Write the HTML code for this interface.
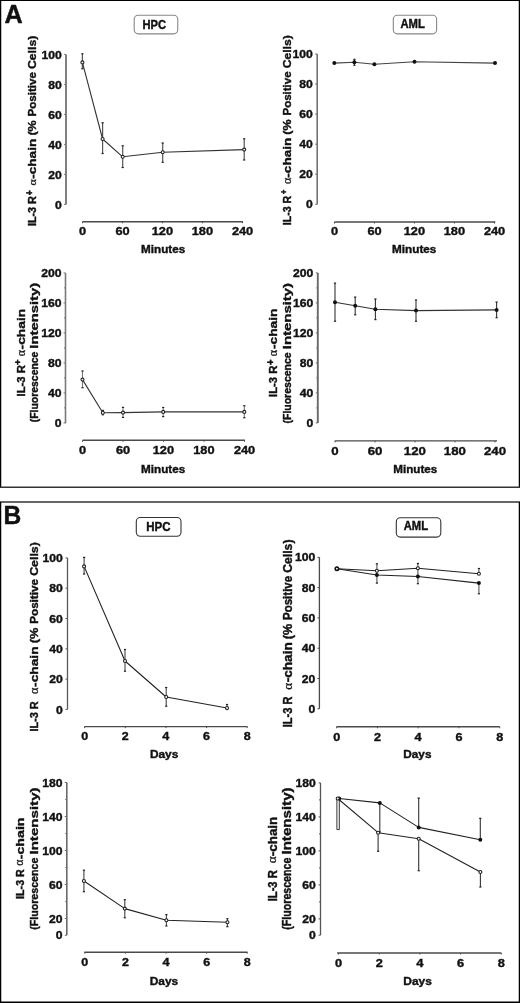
<!DOCTYPE html>
<html><head><meta charset="utf-8"><title>IL-3 receptor figure</title>
<style>
html,body{margin:0;padding:0;background:#fff;}
body{width:520px;height:1003px;overflow:hidden;font-family:"Liberation Sans",sans-serif;}
svg{display:block;will-change:transform;}
</style></head>
<body>
<svg width="520" height="1003" viewBox="0 0 520 1003">
<rect x="0" y="0" width="520" height="1003" fill="#fff"/>
<line x1="0.00" y1="0.50" x2="520.00" y2="0.50" stroke="#000" stroke-width="1.2"/>
<line x1="0.60" y1="0.00" x2="0.60" y2="488.00" stroke="#000" stroke-width="1.3"/>
<line x1="519.40" y1="0.00" x2="519.40" y2="488.00" stroke="#000" stroke-width="1.3"/>
<line x1="0.00" y1="487.20" x2="520.00" y2="487.20" stroke="#333" stroke-width="1.4"/>
<line x1="0.00" y1="502.00" x2="520.00" y2="502.00" stroke="#333" stroke-width="1.5"/>
<line x1="0.60" y1="502.00" x2="0.60" y2="1003.00" stroke="#000" stroke-width="1.3"/>
<line x1="519.40" y1="502.00" x2="519.40" y2="1003.00" stroke="#000" stroke-width="1.3"/>
<line x1="0.00" y1="1002.20" x2="520.00" y2="1002.20" stroke="#000" stroke-width="1.4"/>
<text transform="matrix(2.5224 0 0 2.5507 4.57 22.80)" style="font-family:'Liberation Sans';font-weight:bold;font-size:10.0px" fill="#111" stroke="#111" stroke-width="0.158">A</text>
<text transform="matrix(2.4590 0 0 2.5507 3.40 524.00)" style="font-family:'Liberation Sans';font-weight:bold;font-size:10.0px" fill="#111" stroke="#111" stroke-width="0.160">B</text>
<rect x="134.20" y="15.30" width="43.55" height="18.55" rx="4" ry="4" fill="none" stroke="#888" stroke-width="1.1"/>
<text transform="matrix(1.1139 0 0 1.2357 142.43 28.50)" style="font-family:'Liberation Sans';font-weight:bold;font-size:10.0px" fill="#111" stroke="#111" stroke-width="0.340">HPC</text>
<line x1="66.00" y1="54.40" x2="66.00" y2="204.40" stroke="#7a7a7a" stroke-width="1.9"/>
<line x1="64.00" y1="54.40" x2="66.00" y2="54.40" stroke="#7a7a7a" stroke-width="1.0"/>
<line x1="64.00" y1="84.40" x2="66.00" y2="84.40" stroke="#7a7a7a" stroke-width="1.0"/>
<line x1="64.00" y1="114.40" x2="66.00" y2="114.40" stroke="#7a7a7a" stroke-width="1.0"/>
<line x1="64.00" y1="144.40" x2="66.00" y2="144.40" stroke="#7a7a7a" stroke-width="1.0"/>
<line x1="64.00" y1="174.40" x2="66.00" y2="174.40" stroke="#7a7a7a" stroke-width="1.0"/>
<line x1="64.00" y1="204.40" x2="66.00" y2="204.40" stroke="#7a7a7a" stroke-width="1.0"/>
<text transform="matrix(1.2160 0 0 1.0857 41.54 58.50)" style="font-family:'Liberation Sans';font-weight:bold;font-size:10.0px" fill="#111" stroke="#111" stroke-width="0.348">100</text>
<text transform="matrix(1.2160 0 0 1.0857 48.29 88.50)" style="font-family:'Liberation Sans';font-weight:bold;font-size:10.0px" fill="#111" stroke="#111" stroke-width="0.348">80</text>
<text transform="matrix(1.2160 0 0 1.0857 48.29 118.50)" style="font-family:'Liberation Sans';font-weight:bold;font-size:10.0px" fill="#111" stroke="#111" stroke-width="0.348">60</text>
<text transform="matrix(1.2160 0 0 1.0857 48.29 148.50)" style="font-family:'Liberation Sans';font-weight:bold;font-size:10.0px" fill="#111" stroke="#111" stroke-width="0.348">40</text>
<text transform="matrix(1.2160 0 0 1.0857 48.29 178.50)" style="font-family:'Liberation Sans';font-weight:bold;font-size:10.0px" fill="#111" stroke="#111" stroke-width="0.348">20</text>
<text transform="matrix(1.2160 0 0 1.0857 55.04 208.50)" style="font-family:'Liberation Sans';font-weight:bold;font-size:10.0px" fill="#111" stroke="#111" stroke-width="0.348">0</text>
<line x1="82.50" y1="221.70" x2="243.00" y2="221.70" stroke="#4a4a4a" stroke-width="1.4"/>
<line x1="82.50" y1="221.70" x2="82.50" y2="223.20" stroke="#4a4a4a" stroke-width="1.0"/>
<line x1="122.50" y1="221.70" x2="122.50" y2="223.20" stroke="#4a4a4a" stroke-width="1.0"/>
<line x1="162.50" y1="221.70" x2="162.50" y2="223.20" stroke="#4a4a4a" stroke-width="1.0"/>
<line x1="202.50" y1="221.70" x2="202.50" y2="223.20" stroke="#4a4a4a" stroke-width="1.0"/>
<line x1="242.50" y1="221.70" x2="242.50" y2="223.20" stroke="#4a4a4a" stroke-width="1.0"/>
<text transform="matrix(1.2800 0 0 1.1429 78.95 235.00)" style="font-family:'Liberation Sans';font-weight:bold;font-size:10.0px" fill="#111" stroke="#111" stroke-width="0.330">0</text>
<text transform="matrix(1.2800 0 0 1.1429 115.43 235.00)" style="font-family:'Liberation Sans';font-weight:bold;font-size:10.0px" fill="#111" stroke="#111" stroke-width="0.330">60</text>
<text transform="matrix(1.2800 0 0 1.1429 151.68 235.00)" style="font-family:'Liberation Sans';font-weight:bold;font-size:10.0px" fill="#111" stroke="#111" stroke-width="0.330">120</text>
<text transform="matrix(1.2800 0 0 1.1429 191.68 235.00)" style="font-family:'Liberation Sans';font-weight:bold;font-size:10.0px" fill="#111" stroke="#111" stroke-width="0.330">180</text>
<text transform="matrix(1.2800 0 0 1.1429 231.88 235.00)" style="font-family:'Liberation Sans';font-weight:bold;font-size:10.0px" fill="#111" stroke="#111" stroke-width="0.330">240</text>
<text transform="matrix(1.1717 0 0 1.0966 140.99 252.80)" style="font-family:'Liberation Sans';font-weight:bold;font-size:10.0px" fill="#111" stroke="#111" stroke-width="0.353">Minutes</text>
<text transform="translate(35.80 226.10) rotate(-90) scale(1.0818 1.1014)" style="font-family:'Liberation Sans';font-weight:bold;font-size:10.0px" fill="#111" stroke="#111" stroke-width="0.366">IL-3 R</text>
<text transform="translate(32.82 195.34) rotate(-90) scale(0.8515 1.0980)" style="font-family:'Liberation Sans';font-weight:bold;font-size:10.0px" fill="#111" stroke="#111" stroke-width="0.410">+</text>
<text transform="translate(35.69 185.59) rotate(-90) scale(1.2174 1.1250)" style="font-family:'Liberation Serif';font-weight:normal;font-size:10.0px" fill="#111" stroke="#111" stroke-width="0.239">α</text>
<text transform="translate(35.80 178.85) rotate(-90) scale(1.3626 1.1014)" style="font-family:'Liberation Sans';font-weight:bold;font-size:10.0px" fill="#111" stroke="#111" stroke-width="0.325">-chain</text>
<text transform="translate(35.80 135.62) rotate(-90) scale(1.2595 1.1014)" style="font-family:'Liberation Sans';font-weight:bold;font-size:10.0px" fill="#111" stroke="#111" stroke-width="0.339">(%</text>
<text transform="translate(35.80 116.43) rotate(-90) scale(1.1558 1.1014)" style="font-family:'Liberation Sans';font-weight:bold;font-size:10.0px" fill="#111" stroke="#111" stroke-width="0.354">Positive</text>
<text transform="translate(35.80 69.02) rotate(-90) scale(1.2233 1.1014)" style="font-family:'Liberation Sans';font-weight:bold;font-size:10.0px" fill="#111" stroke="#111" stroke-width="0.344">Cells)</text>
<line x1="82.40" y1="53.80" x2="82.40" y2="68.80" stroke="#555" stroke-width="1.2"/>
<line x1="81.30" y1="53.80" x2="83.50" y2="53.80" stroke="#222" stroke-width="1.2"/>
<line x1="81.30" y1="68.80" x2="83.50" y2="68.80" stroke="#222" stroke-width="1.2"/>
<line x1="102.60" y1="122.80" x2="102.60" y2="153.50" stroke="#555" stroke-width="1.2"/>
<line x1="101.50" y1="122.80" x2="103.70" y2="122.80" stroke="#222" stroke-width="1.2"/>
<line x1="101.50" y1="153.50" x2="103.70" y2="153.50" stroke="#222" stroke-width="1.2"/>
<line x1="122.70" y1="145.80" x2="122.70" y2="167.50" stroke="#555" stroke-width="1.2"/>
<line x1="121.60" y1="145.80" x2="123.80" y2="145.80" stroke="#222" stroke-width="1.2"/>
<line x1="121.60" y1="167.50" x2="123.80" y2="167.50" stroke="#222" stroke-width="1.2"/>
<line x1="162.70" y1="143.00" x2="162.70" y2="162.30" stroke="#555" stroke-width="1.2"/>
<line x1="161.60" y1="143.00" x2="163.80" y2="143.00" stroke="#222" stroke-width="1.2"/>
<line x1="161.60" y1="162.30" x2="163.80" y2="162.30" stroke="#222" stroke-width="1.2"/>
<line x1="244.20" y1="138.80" x2="244.20" y2="160.00" stroke="#555" stroke-width="1.2"/>
<line x1="243.10" y1="138.80" x2="245.30" y2="138.80" stroke="#222" stroke-width="1.2"/>
<line x1="243.10" y1="160.00" x2="245.30" y2="160.00" stroke="#222" stroke-width="1.2"/>
<polyline points="82.40,62.40 102.60,139.00 122.70,156.80 162.70,152.30 244.20,149.60" fill="none" stroke="#333" stroke-width="1.1" stroke-linejoin="round"/>
<circle cx="82.40" cy="62.40" r="1.5" fill="#fff" stroke="#222" stroke-width="1.1"/>
<circle cx="102.60" cy="139.00" r="1.5" fill="#fff" stroke="#222" stroke-width="1.1"/>
<circle cx="122.70" cy="156.80" r="1.5" fill="#fff" stroke="#222" stroke-width="1.1"/>
<circle cx="162.70" cy="152.30" r="1.5" fill="#fff" stroke="#222" stroke-width="1.1"/>
<circle cx="244.20" cy="149.60" r="1.5" fill="#fff" stroke="#222" stroke-width="1.1"/>
<rect x="393.30" y="15.30" width="43.30" height="18.55" rx="4" ry="4" fill="none" stroke="#888" stroke-width="1.1"/>
<text transform="matrix(1.1280 0 0 1.2681 400.47 28.20)" style="font-family:'Liberation Sans';font-weight:bold;font-size:10.0px" fill="#111" stroke="#111" stroke-width="0.334">AML</text>
<line x1="317.20" y1="54.00" x2="317.20" y2="204.30" stroke="#6a6a6a" stroke-width="1.5"/>
<line x1="315.20" y1="54.00" x2="317.20" y2="54.00" stroke="#6a6a6a" stroke-width="1.0"/>
<line x1="315.20" y1="84.05" x2="317.20" y2="84.05" stroke="#6a6a6a" stroke-width="1.0"/>
<line x1="315.20" y1="114.10" x2="317.20" y2="114.10" stroke="#6a6a6a" stroke-width="1.0"/>
<line x1="315.20" y1="144.15" x2="317.20" y2="144.15" stroke="#6a6a6a" stroke-width="1.0"/>
<line x1="315.20" y1="174.20" x2="317.20" y2="174.20" stroke="#6a6a6a" stroke-width="1.0"/>
<line x1="315.20" y1="204.25" x2="317.20" y2="204.25" stroke="#6a6a6a" stroke-width="1.0"/>
<text transform="matrix(1.2160 0 0 1.0857 292.54 58.10)" style="font-family:'Liberation Sans';font-weight:bold;font-size:10.0px" fill="#111" stroke="#111" stroke-width="0.348">100</text>
<text transform="matrix(1.2160 0 0 1.0857 299.29 88.15)" style="font-family:'Liberation Sans';font-weight:bold;font-size:10.0px" fill="#111" stroke="#111" stroke-width="0.348">80</text>
<text transform="matrix(1.2160 0 0 1.0857 299.29 118.20)" style="font-family:'Liberation Sans';font-weight:bold;font-size:10.0px" fill="#111" stroke="#111" stroke-width="0.348">60</text>
<text transform="matrix(1.2160 0 0 1.0857 299.29 148.25)" style="font-family:'Liberation Sans';font-weight:bold;font-size:10.0px" fill="#111" stroke="#111" stroke-width="0.348">40</text>
<text transform="matrix(1.2160 0 0 1.0857 299.29 178.30)" style="font-family:'Liberation Sans';font-weight:bold;font-size:10.0px" fill="#111" stroke="#111" stroke-width="0.348">20</text>
<text transform="matrix(1.2160 0 0 1.0857 306.04 208.35)" style="font-family:'Liberation Sans';font-weight:bold;font-size:10.0px" fill="#111" stroke="#111" stroke-width="0.348">0</text>
<line x1="334.50" y1="222.00" x2="495.30" y2="222.00" stroke="#4a4a4a" stroke-width="1.4"/>
<line x1="334.50" y1="222.00" x2="334.50" y2="223.50" stroke="#4a4a4a" stroke-width="1.0"/>
<line x1="374.50" y1="222.00" x2="374.50" y2="223.50" stroke="#4a4a4a" stroke-width="1.0"/>
<line x1="414.50" y1="222.00" x2="414.50" y2="223.50" stroke="#4a4a4a" stroke-width="1.0"/>
<line x1="454.50" y1="222.00" x2="454.50" y2="223.50" stroke="#4a4a4a" stroke-width="1.0"/>
<line x1="494.50" y1="222.00" x2="494.50" y2="223.50" stroke="#4a4a4a" stroke-width="1.0"/>
<text transform="matrix(1.2800 0 0 1.1429 330.95 235.20)" style="font-family:'Liberation Sans';font-weight:bold;font-size:10.0px" fill="#111" stroke="#111" stroke-width="0.330">0</text>
<text transform="matrix(1.2800 0 0 1.1429 367.43 235.20)" style="font-family:'Liberation Sans';font-weight:bold;font-size:10.0px" fill="#111" stroke="#111" stroke-width="0.330">60</text>
<text transform="matrix(1.2800 0 0 1.1429 403.68 235.20)" style="font-family:'Liberation Sans';font-weight:bold;font-size:10.0px" fill="#111" stroke="#111" stroke-width="0.330">120</text>
<text transform="matrix(1.2800 0 0 1.1429 443.68 235.20)" style="font-family:'Liberation Sans';font-weight:bold;font-size:10.0px" fill="#111" stroke="#111" stroke-width="0.330">180</text>
<text transform="matrix(1.2800 0 0 1.1429 483.88 235.20)" style="font-family:'Liberation Sans';font-weight:bold;font-size:10.0px" fill="#111" stroke="#111" stroke-width="0.330">240</text>
<text transform="matrix(1.1744 0 0 1.1103 392.09 253.30)" style="font-family:'Liberation Sans';font-weight:bold;font-size:10.0px" fill="#111" stroke="#111" stroke-width="0.350">Minutes</text>
<text transform="translate(291.20 225.29) rotate(-90) scale(1.0669 1.1594)" style="font-family:'Liberation Sans';font-weight:bold;font-size:10.0px" fill="#111" stroke="#111" stroke-width="0.359">IL-3 R</text>
<text transform="translate(287.11 194.22) rotate(-90) scale(0.7921 0.9412)" style="font-family:'Liberation Sans';font-weight:bold;font-size:10.0px" fill="#111" stroke="#111" stroke-width="0.462">+</text>
<text transform="translate(290.89 183.99) rotate(-90) scale(1.2174 1.1458)" style="font-family:'Liberation Serif';font-weight:normal;font-size:10.0px" fill="#111" stroke="#111" stroke-width="0.237">α</text>
<text transform="translate(291.20 177.64) rotate(-90) scale(1.3559 1.1594)" style="font-family:'Liberation Sans';font-weight:bold;font-size:10.0px" fill="#111" stroke="#111" stroke-width="0.318">-chain</text>
<text transform="translate(291.20 134.63) rotate(-90) scale(1.2533 1.1594)" style="font-family:'Liberation Sans';font-weight:bold;font-size:10.0px" fill="#111" stroke="#111" stroke-width="0.332">(%</text>
<text transform="translate(291.20 115.53) rotate(-90) scale(1.1501 1.1594)" style="font-family:'Liberation Sans';font-weight:bold;font-size:10.0px" fill="#111" stroke="#111" stroke-width="0.346">Positive</text>
<text transform="translate(291.20 68.36) rotate(-90) scale(1.2173 1.1594)" style="font-family:'Liberation Sans';font-weight:bold;font-size:10.0px" fill="#111" stroke="#111" stroke-width="0.337">Cells)</text>
<line x1="354.40" y1="59.30" x2="354.40" y2="65.30" stroke="#333" stroke-width="1.1"/>
<line x1="353.30" y1="59.30" x2="355.50" y2="59.30" stroke="#222" stroke-width="1.2"/>
<line x1="353.30" y1="65.30" x2="355.50" y2="65.30" stroke="#222" stroke-width="1.2"/>
<polyline points="334.30,63.10 354.40,62.30 374.40,64.20 414.50,61.80 495.00,63.10" fill="none" stroke="#444" stroke-width="1.1" stroke-linejoin="round"/>
<circle cx="334.30" cy="63.10" r="2.0" fill="#111"/>
<circle cx="354.40" cy="62.30" r="2.0" fill="#111"/>
<circle cx="374.40" cy="64.20" r="2.0" fill="#111"/>
<circle cx="414.50" cy="61.80" r="2.0" fill="#111"/>
<circle cx="495.00" cy="63.10" r="2.0" fill="#111"/>
<line x1="65.50" y1="272.90" x2="65.50" y2="423.30" stroke="#7a7a7a" stroke-width="1.6"/>
<line x1="63.50" y1="272.90" x2="65.50" y2="272.90" stroke="#7a7a7a" stroke-width="1.0"/>
<line x1="63.50" y1="302.90" x2="65.50" y2="302.90" stroke="#7a7a7a" stroke-width="1.0"/>
<line x1="63.50" y1="332.90" x2="65.50" y2="332.90" stroke="#7a7a7a" stroke-width="1.0"/>
<line x1="63.50" y1="362.90" x2="65.50" y2="362.90" stroke="#7a7a7a" stroke-width="1.0"/>
<line x1="63.50" y1="392.90" x2="65.50" y2="392.90" stroke="#7a7a7a" stroke-width="1.0"/>
<line x1="63.50" y1="422.90" x2="65.50" y2="422.90" stroke="#7a7a7a" stroke-width="1.0"/>
<line x1="64.00" y1="287.90" x2="65.50" y2="287.90" stroke="#7a7a7a" stroke-width="1.0"/>
<line x1="64.00" y1="317.90" x2="65.50" y2="317.90" stroke="#7a7a7a" stroke-width="1.0"/>
<line x1="64.00" y1="347.90" x2="65.50" y2="347.90" stroke="#7a7a7a" stroke-width="1.0"/>
<line x1="64.00" y1="377.90" x2="65.50" y2="377.90" stroke="#7a7a7a" stroke-width="1.0"/>
<line x1="64.00" y1="407.90" x2="65.50" y2="407.90" stroke="#7a7a7a" stroke-width="1.0"/>
<text transform="matrix(1.2160 0 0 1.0857 41.24 277.00)" style="font-family:'Liberation Sans';font-weight:bold;font-size:10.0px" fill="#111" stroke="#111" stroke-width="0.348">200</text>
<text transform="matrix(1.2160 0 0 1.0857 41.24 307.00)" style="font-family:'Liberation Sans';font-weight:bold;font-size:10.0px" fill="#111" stroke="#111" stroke-width="0.348">160</text>
<text transform="matrix(1.2160 0 0 1.0857 41.24 337.00)" style="font-family:'Liberation Sans';font-weight:bold;font-size:10.0px" fill="#111" stroke="#111" stroke-width="0.348">120</text>
<text transform="matrix(1.2160 0 0 1.0857 47.99 367.00)" style="font-family:'Liberation Sans';font-weight:bold;font-size:10.0px" fill="#111" stroke="#111" stroke-width="0.348">80</text>
<text transform="matrix(1.2160 0 0 1.0857 47.99 397.00)" style="font-family:'Liberation Sans';font-weight:bold;font-size:10.0px" fill="#111" stroke="#111" stroke-width="0.348">40</text>
<text transform="matrix(1.2160 0 0 1.0857 54.74 427.00)" style="font-family:'Liberation Sans';font-weight:bold;font-size:10.0px" fill="#111" stroke="#111" stroke-width="0.348">0</text>
<line x1="82.50" y1="440.30" x2="245.00" y2="440.30" stroke="#4a4a4a" stroke-width="1.4"/>
<line x1="82.50" y1="440.30" x2="82.50" y2="441.80" stroke="#4a4a4a" stroke-width="1.0"/>
<line x1="123.00" y1="440.30" x2="123.00" y2="441.80" stroke="#4a4a4a" stroke-width="1.0"/>
<line x1="163.50" y1="440.30" x2="163.50" y2="441.80" stroke="#4a4a4a" stroke-width="1.0"/>
<line x1="204.00" y1="440.30" x2="204.00" y2="441.80" stroke="#4a4a4a" stroke-width="1.0"/>
<line x1="244.50" y1="440.30" x2="244.50" y2="441.80" stroke="#4a4a4a" stroke-width="1.0"/>
<text transform="matrix(1.2800 0 0 1.1429 78.95 454.00)" style="font-family:'Liberation Sans';font-weight:bold;font-size:10.0px" fill="#111" stroke="#111" stroke-width="0.330">0</text>
<text transform="matrix(1.2800 0 0 1.1429 115.93 454.00)" style="font-family:'Liberation Sans';font-weight:bold;font-size:10.0px" fill="#111" stroke="#111" stroke-width="0.330">60</text>
<text transform="matrix(1.2800 0 0 1.1429 152.68 454.00)" style="font-family:'Liberation Sans';font-weight:bold;font-size:10.0px" fill="#111" stroke="#111" stroke-width="0.330">120</text>
<text transform="matrix(1.2800 0 0 1.1429 193.18 454.00)" style="font-family:'Liberation Sans';font-weight:bold;font-size:10.0px" fill="#111" stroke="#111" stroke-width="0.330">180</text>
<text transform="matrix(1.2800 0 0 1.1429 233.88 454.00)" style="font-family:'Liberation Sans';font-weight:bold;font-size:10.0px" fill="#111" stroke="#111" stroke-width="0.330">240</text>
<text transform="matrix(1.1717 0 0 1.1241 140.99 473.00)" style="font-family:'Liberation Sans';font-weight:bold;font-size:10.0px" fill="#111" stroke="#111" stroke-width="0.348">Minutes</text>
<text transform="translate(24.80 396.43) rotate(-90) scale(1.1301 1.1304)" style="font-family:'Liberation Sans';font-weight:bold;font-size:10.0px" fill="#111" stroke="#111" stroke-width="0.354">IL-3 R</text>
<text transform="translate(21.24 365.20) rotate(-90) scale(0.9901 0.9804)" style="font-family:'Liberation Sans';font-weight:bold;font-size:10.0px" fill="#111" stroke="#111" stroke-width="0.406">+</text>
<text transform="translate(24.69 356.28) rotate(-90) scale(1.1957 1.1458)" style="font-family:'Liberation Serif';font-weight:normal;font-size:10.0px" fill="#111" stroke="#111" stroke-width="0.239">α</text>
<text transform="translate(24.80 349.45) rotate(-90) scale(1.3849 1.1304)" style="font-family:'Liberation Sans';font-weight:bold;font-size:10.0px" fill="#111" stroke="#111" stroke-width="0.318">-chain</text>
<text transform="translate(38.30 422.32) rotate(-90) scale(1.0432 1.0290)" style="font-family:'Liberation Sans';font-weight:bold;font-size:10.0px" fill="#111" stroke="#111" stroke-width="0.386">(Fluorescence</text>
<text transform="translate(38.30 348.63) rotate(-90) scale(1.4820 1.0290)" style="font-family:'Liberation Sans';font-weight:bold;font-size:10.0px" fill="#111" stroke="#111" stroke-width="0.319">Intensity)</text>
<line x1="82.50" y1="371.00" x2="82.50" y2="387.70" stroke="#777" stroke-width="1.1"/>
<line x1="81.40" y1="371.00" x2="83.60" y2="371.00" stroke="#222" stroke-width="1.2"/>
<line x1="81.40" y1="387.70" x2="83.60" y2="387.70" stroke="#222" stroke-width="1.2"/>
<line x1="102.80" y1="410.40" x2="102.80" y2="414.80" stroke="#777" stroke-width="1.1"/>
<line x1="101.70" y1="410.40" x2="103.90" y2="410.40" stroke="#222" stroke-width="1.2"/>
<line x1="101.70" y1="414.80" x2="103.90" y2="414.80" stroke="#222" stroke-width="1.2"/>
<line x1="123.00" y1="407.40" x2="123.00" y2="417.40" stroke="#777" stroke-width="1.1"/>
<line x1="121.90" y1="407.40" x2="124.10" y2="407.40" stroke="#222" stroke-width="1.2"/>
<line x1="121.90" y1="417.40" x2="124.10" y2="417.40" stroke="#222" stroke-width="1.2"/>
<line x1="163.20" y1="407.50" x2="163.20" y2="416.60" stroke="#777" stroke-width="1.1"/>
<line x1="162.10" y1="407.50" x2="164.30" y2="407.50" stroke="#222" stroke-width="1.2"/>
<line x1="162.10" y1="416.60" x2="164.30" y2="416.60" stroke="#222" stroke-width="1.2"/>
<line x1="244.30" y1="405.70" x2="244.30" y2="417.70" stroke="#777" stroke-width="1.1"/>
<line x1="243.20" y1="405.70" x2="245.40" y2="405.70" stroke="#222" stroke-width="1.2"/>
<line x1="243.20" y1="417.70" x2="245.40" y2="417.70" stroke="#222" stroke-width="1.2"/>
<polyline points="82.50,379.60 102.80,412.80 123.00,412.60 163.20,411.90 244.30,411.90" fill="none" stroke="#333" stroke-width="1.1" stroke-linejoin="round"/>
<circle cx="82.50" cy="379.60" r="1.5" fill="#fff" stroke="#222" stroke-width="1.1"/>
<circle cx="102.80" cy="412.80" r="1.5" fill="#fff" stroke="#222" stroke-width="1.1"/>
<circle cx="123.00" cy="412.60" r="1.5" fill="#fff" stroke="#222" stroke-width="1.1"/>
<circle cx="163.20" cy="411.90" r="1.5" fill="#fff" stroke="#222" stroke-width="1.1"/>
<circle cx="244.30" cy="411.90" r="1.5" fill="#fff" stroke="#222" stroke-width="1.1"/>
<line x1="317.80" y1="272.90" x2="317.80" y2="423.00" stroke="#6a6a6a" stroke-width="1.9"/>
<line x1="315.80" y1="272.90" x2="317.80" y2="272.90" stroke="#6a6a6a" stroke-width="1.0"/>
<line x1="315.80" y1="302.90" x2="317.80" y2="302.90" stroke="#6a6a6a" stroke-width="1.0"/>
<line x1="315.80" y1="332.90" x2="317.80" y2="332.90" stroke="#6a6a6a" stroke-width="1.0"/>
<line x1="315.80" y1="362.90" x2="317.80" y2="362.90" stroke="#6a6a6a" stroke-width="1.0"/>
<line x1="315.80" y1="392.90" x2="317.80" y2="392.90" stroke="#6a6a6a" stroke-width="1.0"/>
<line x1="315.80" y1="422.90" x2="317.80" y2="422.90" stroke="#6a6a6a" stroke-width="1.0"/>
<line x1="316.30" y1="287.90" x2="317.80" y2="287.90" stroke="#6a6a6a" stroke-width="1.0"/>
<line x1="316.30" y1="317.90" x2="317.80" y2="317.90" stroke="#6a6a6a" stroke-width="1.0"/>
<line x1="316.30" y1="347.90" x2="317.80" y2="347.90" stroke="#6a6a6a" stroke-width="1.0"/>
<line x1="316.30" y1="377.90" x2="317.80" y2="377.90" stroke="#6a6a6a" stroke-width="1.0"/>
<line x1="316.30" y1="407.90" x2="317.80" y2="407.90" stroke="#6a6a6a" stroke-width="1.0"/>
<text transform="matrix(1.2160 0 0 1.0857 292.94 277.00)" style="font-family:'Liberation Sans';font-weight:bold;font-size:10.0px" fill="#111" stroke="#111" stroke-width="0.348">200</text>
<text transform="matrix(1.2160 0 0 1.0857 292.94 307.00)" style="font-family:'Liberation Sans';font-weight:bold;font-size:10.0px" fill="#111" stroke="#111" stroke-width="0.348">160</text>
<text transform="matrix(1.2160 0 0 1.0857 292.94 337.00)" style="font-family:'Liberation Sans';font-weight:bold;font-size:10.0px" fill="#111" stroke="#111" stroke-width="0.348">120</text>
<text transform="matrix(1.2160 0 0 1.0857 299.69 367.00)" style="font-family:'Liberation Sans';font-weight:bold;font-size:10.0px" fill="#111" stroke="#111" stroke-width="0.348">80</text>
<text transform="matrix(1.2160 0 0 1.0857 299.69 397.00)" style="font-family:'Liberation Sans';font-weight:bold;font-size:10.0px" fill="#111" stroke="#111" stroke-width="0.348">40</text>
<text transform="matrix(1.2160 0 0 1.0857 306.44 427.00)" style="font-family:'Liberation Sans';font-weight:bold;font-size:10.0px" fill="#111" stroke="#111" stroke-width="0.348">0</text>
<line x1="334.80" y1="440.90" x2="497.00" y2="440.90" stroke="#4a4a4a" stroke-width="1.4"/>
<line x1="335.00" y1="440.90" x2="335.00" y2="442.40" stroke="#4a4a4a" stroke-width="1.0"/>
<line x1="375.00" y1="440.90" x2="375.00" y2="442.40" stroke="#4a4a4a" stroke-width="1.0"/>
<line x1="415.00" y1="440.90" x2="415.00" y2="442.40" stroke="#4a4a4a" stroke-width="1.0"/>
<line x1="455.00" y1="440.90" x2="455.00" y2="442.40" stroke="#4a4a4a" stroke-width="1.0"/>
<line x1="495.00" y1="440.90" x2="495.00" y2="442.40" stroke="#4a4a4a" stroke-width="1.0"/>
<text transform="matrix(1.3280 0 0 1.1857 331.31 454.50)" style="font-family:'Liberation Sans';font-weight:bold;font-size:10.0px" fill="#111" stroke="#111" stroke-width="0.318">0</text>
<text transform="matrix(1.3280 0 0 1.1857 367.66 454.50)" style="font-family:'Liberation Sans';font-weight:bold;font-size:10.0px" fill="#111" stroke="#111" stroke-width="0.318">60</text>
<text transform="matrix(1.3280 0 0 1.1857 403.78 454.50)" style="font-family:'Liberation Sans';font-weight:bold;font-size:10.0px" fill="#111" stroke="#111" stroke-width="0.318">120</text>
<text transform="matrix(1.3280 0 0 1.1857 443.78 454.50)" style="font-family:'Liberation Sans';font-weight:bold;font-size:10.0px" fill="#111" stroke="#111" stroke-width="0.318">180</text>
<text transform="matrix(1.3280 0 0 1.1857 483.98 454.50)" style="font-family:'Liberation Sans';font-weight:bold;font-size:10.0px" fill="#111" stroke="#111" stroke-width="0.318">240</text>
<text transform="matrix(1.1635 0 0 1.0966 393.29 473.20)" style="font-family:'Liberation Sans';font-weight:bold;font-size:10.0px" fill="#111" stroke="#111" stroke-width="0.354">Minutes</text>
<text transform="translate(277.30 396.93) rotate(-90) scale(1.1301 1.1739)" style="font-family:'Liberation Sans';font-weight:bold;font-size:10.0px" fill="#111" stroke="#111" stroke-width="0.347">IL-3 R</text>
<text transform="translate(273.81 365.20) rotate(-90) scale(0.9901 1.0784)" style="font-family:'Liberation Sans';font-weight:bold;font-size:10.0px" fill="#111" stroke="#111" stroke-width="0.387">+</text>
<text transform="translate(277.18 356.28) rotate(-90) scale(1.1957 1.2083)" style="font-family:'Liberation Serif';font-weight:normal;font-size:10.0px" fill="#111" stroke="#111" stroke-width="0.233">α</text>
<text transform="translate(277.30 348.95) rotate(-90) scale(1.3673 1.1739)" style="font-family:'Liberation Sans';font-weight:bold;font-size:10.0px" fill="#111" stroke="#111" stroke-width="0.315">-chain</text>
<text transform="translate(290.50 423.53) rotate(-90) scale(1.0515 1.1739)" style="font-family:'Liberation Sans';font-weight:bold;font-size:10.0px" fill="#111" stroke="#111" stroke-width="0.359">(Fluorescence</text>
<text transform="translate(290.50 349.25) rotate(-90) scale(1.4938 1.1739)" style="font-family:'Liberation Sans';font-weight:bold;font-size:10.0px" fill="#111" stroke="#111" stroke-width="0.300">Intensity)</text>
<line x1="335.00" y1="283.10" x2="335.00" y2="321.20" stroke="#333" stroke-width="1.1"/>
<line x1="333.90" y1="283.10" x2="336.10" y2="283.10" stroke="#222" stroke-width="1.2"/>
<line x1="333.90" y1="321.20" x2="336.10" y2="321.20" stroke="#222" stroke-width="1.2"/>
<line x1="355.20" y1="297.10" x2="355.20" y2="314.80" stroke="#333" stroke-width="1.1"/>
<line x1="354.10" y1="297.10" x2="356.30" y2="297.10" stroke="#222" stroke-width="1.2"/>
<line x1="354.10" y1="314.80" x2="356.30" y2="314.80" stroke="#222" stroke-width="1.2"/>
<line x1="375.40" y1="299.00" x2="375.40" y2="319.60" stroke="#333" stroke-width="1.1"/>
<line x1="374.30" y1="299.00" x2="376.50" y2="299.00" stroke="#222" stroke-width="1.2"/>
<line x1="374.30" y1="319.60" x2="376.50" y2="319.60" stroke="#222" stroke-width="1.2"/>
<line x1="416.00" y1="300.00" x2="416.00" y2="321.20" stroke="#333" stroke-width="1.1"/>
<line x1="414.90" y1="300.00" x2="417.10" y2="300.00" stroke="#222" stroke-width="1.2"/>
<line x1="414.90" y1="321.20" x2="417.10" y2="321.20" stroke="#222" stroke-width="1.2"/>
<line x1="496.60" y1="302.10" x2="496.60" y2="317.70" stroke="#333" stroke-width="1.1"/>
<line x1="495.50" y1="302.10" x2="497.70" y2="302.10" stroke="#222" stroke-width="1.2"/>
<line x1="495.50" y1="317.70" x2="497.70" y2="317.70" stroke="#222" stroke-width="1.2"/>
<polyline points="335.00,302.30 355.20,305.80 375.40,309.20 416.00,310.60 496.60,309.90" fill="none" stroke="#333" stroke-width="1.1" stroke-linejoin="round"/>
<circle cx="335.00" cy="302.30" r="2.0" fill="#111"/>
<circle cx="355.20" cy="305.80" r="2.0" fill="#111"/>
<circle cx="375.40" cy="309.20" r="2.0" fill="#111"/>
<circle cx="416.00" cy="310.60" r="2.0" fill="#111"/>
<circle cx="496.60" cy="309.90" r="2.0" fill="#111"/>
<rect x="136.30" y="517.50" width="44.70" height="18.80" rx="4" ry="4" fill="none" stroke="#333" stroke-width="1.1"/>
<text transform="matrix(1.1485 0 0 1.2071 146.20 530.80)" style="font-family:'Liberation Sans';font-weight:bold;font-size:10.0px" fill="#111" stroke="#111" stroke-width="0.340">HPC</text>
<line x1="67.50" y1="557.90" x2="67.50" y2="709.40" stroke="#5a5a5a" stroke-width="1.3"/>
<line x1="65.50" y1="557.90" x2="67.50" y2="557.90" stroke="#5a5a5a" stroke-width="1.0"/>
<line x1="65.50" y1="588.20" x2="67.50" y2="588.20" stroke="#5a5a5a" stroke-width="1.0"/>
<line x1="65.50" y1="618.50" x2="67.50" y2="618.50" stroke="#5a5a5a" stroke-width="1.0"/>
<line x1="65.50" y1="648.80" x2="67.50" y2="648.80" stroke="#5a5a5a" stroke-width="1.0"/>
<line x1="65.50" y1="679.10" x2="67.50" y2="679.10" stroke="#5a5a5a" stroke-width="1.0"/>
<line x1="65.50" y1="709.40" x2="67.50" y2="709.40" stroke="#5a5a5a" stroke-width="1.0"/>
<text transform="matrix(1.2160 0 0 1.0857 42.44 562.00)" style="font-family:'Liberation Sans';font-weight:bold;font-size:10.0px" fill="#111" stroke="#111" stroke-width="0.348">100</text>
<text transform="matrix(1.2160 0 0 1.0857 49.19 592.30)" style="font-family:'Liberation Sans';font-weight:bold;font-size:10.0px" fill="#111" stroke="#111" stroke-width="0.348">80</text>
<text transform="matrix(1.2160 0 0 1.0857 49.19 622.60)" style="font-family:'Liberation Sans';font-weight:bold;font-size:10.0px" fill="#111" stroke="#111" stroke-width="0.348">60</text>
<text transform="matrix(1.2160 0 0 1.0857 49.19 652.90)" style="font-family:'Liberation Sans';font-weight:bold;font-size:10.0px" fill="#111" stroke="#111" stroke-width="0.348">40</text>
<text transform="matrix(1.2160 0 0 1.0857 49.19 683.20)" style="font-family:'Liberation Sans';font-weight:bold;font-size:10.0px" fill="#111" stroke="#111" stroke-width="0.348">20</text>
<text transform="matrix(1.2160 0 0 1.0857 55.94 713.50)" style="font-family:'Liberation Sans';font-weight:bold;font-size:10.0px" fill="#111" stroke="#111" stroke-width="0.348">0</text>
<line x1="84.30" y1="726.60" x2="247.50" y2="726.60" stroke="#4a4a4a" stroke-width="1.4"/>
<line x1="84.60" y1="726.60" x2="84.60" y2="728.10" stroke="#4a4a4a" stroke-width="1.0"/>
<line x1="125.25" y1="726.60" x2="125.25" y2="728.10" stroke="#4a4a4a" stroke-width="1.0"/>
<line x1="165.90" y1="726.60" x2="165.90" y2="728.10" stroke="#4a4a4a" stroke-width="1.0"/>
<line x1="206.55" y1="726.60" x2="206.55" y2="728.10" stroke="#4a4a4a" stroke-width="1.0"/>
<line x1="247.20" y1="726.60" x2="247.20" y2="728.10" stroke="#4a4a4a" stroke-width="1.0"/>
<text transform="matrix(1.2480 0 0 1.1143 81.14 740.30)" style="font-family:'Liberation Sans';font-weight:bold;font-size:10.0px" fill="#111" stroke="#111" stroke-width="0.339">0</text>
<text transform="matrix(1.2480 0 0 1.1143 121.82 740.30)" style="font-family:'Liberation Sans';font-weight:bold;font-size:10.0px" fill="#111" stroke="#111" stroke-width="0.339">2</text>
<text transform="matrix(1.2661 0 0 1.1304 162.32 740.30)" style="font-family:'Liberation Sans';font-weight:bold;font-size:10.0px" fill="#111" stroke="#111" stroke-width="0.334">4</text>
<text transform="matrix(1.2480 0 0 1.1143 203.09 740.30)" style="font-family:'Liberation Sans';font-weight:bold;font-size:10.0px" fill="#111" stroke="#111" stroke-width="0.339">6</text>
<text transform="matrix(1.2480 0 0 1.1143 243.74 740.30)" style="font-family:'Liberation Sans';font-weight:bold;font-size:10.0px" fill="#111" stroke="#111" stroke-width="0.339">8</text>
<text transform="matrix(1.1904 0 0 1.0797 149.88 758.10)" style="font-family:'Liberation Sans';font-weight:bold;font-size:10.0px" fill="#111" stroke="#111" stroke-width="0.352">Days</text>
<text transform="translate(38.20 731.61) rotate(-90) scale(1.0892 1.1594)" style="font-family:'Liberation Sans';font-weight:bold;font-size:10.0px" fill="#111" stroke="#111" stroke-width="0.356">IL-3 R</text>
<text transform="translate(38.08 694.00) rotate(-90) scale(1.2391 1.1875)" style="font-family:'Liberation Serif';font-weight:normal;font-size:10.0px" fill="#111" stroke="#111" stroke-width="0.231">α</text>
<text transform="translate(38.20 686.95) rotate(-90) scale(1.3789 1.1594)" style="font-family:'Liberation Sans';font-weight:bold;font-size:10.0px" fill="#111" stroke="#111" stroke-width="0.315">-chain</text>
<text transform="translate(38.20 643.21) rotate(-90) scale(1.2746 1.1594)" style="font-family:'Liberation Sans';font-weight:bold;font-size:10.0px" fill="#111" stroke="#111" stroke-width="0.329">(%</text>
<text transform="translate(38.20 623.79) rotate(-90) scale(1.1696 1.1594)" style="font-family:'Liberation Sans';font-weight:bold;font-size:10.0px" fill="#111" stroke="#111" stroke-width="0.343">Positive</text>
<text transform="translate(38.20 575.82) rotate(-90) scale(1.2379 1.1594)" style="font-family:'Liberation Sans';font-weight:bold;font-size:10.0px" fill="#111" stroke="#111" stroke-width="0.334">Cells)</text>
<line x1="84.10" y1="557.40" x2="84.10" y2="574.00" stroke="#444" stroke-width="1.1"/>
<line x1="83.00" y1="557.40" x2="85.20" y2="557.40" stroke="#222" stroke-width="1.2"/>
<line x1="83.00" y1="574.00" x2="85.20" y2="574.00" stroke="#222" stroke-width="1.2"/>
<line x1="125.00" y1="649.50" x2="125.00" y2="671.20" stroke="#444" stroke-width="1.1"/>
<line x1="123.90" y1="649.50" x2="126.10" y2="649.50" stroke="#222" stroke-width="1.2"/>
<line x1="123.90" y1="671.20" x2="126.10" y2="671.20" stroke="#222" stroke-width="1.2"/>
<line x1="166.20" y1="687.50" x2="166.20" y2="706.20" stroke="#444" stroke-width="1.1"/>
<line x1="165.10" y1="687.50" x2="167.30" y2="687.50" stroke="#222" stroke-width="1.2"/>
<line x1="165.10" y1="706.20" x2="167.30" y2="706.20" stroke="#222" stroke-width="1.2"/>
<line x1="227.00" y1="704.50" x2="227.00" y2="709.50" stroke="#444" stroke-width="1.1"/>
<line x1="225.90" y1="704.50" x2="228.10" y2="704.50" stroke="#222" stroke-width="1.2"/>
<line x1="225.90" y1="709.50" x2="228.10" y2="709.50" stroke="#222" stroke-width="1.2"/>
<polyline points="84.10,566.40 125.00,661.00 166.20,697.00 227.00,708.00" fill="none" stroke="#222" stroke-width="1.1" stroke-linejoin="round"/>
<circle cx="84.10" cy="566.40" r="1.5" fill="#fff" stroke="#222" stroke-width="1.1"/>
<circle cx="125.00" cy="661.00" r="1.5" fill="#fff" stroke="#222" stroke-width="1.1"/>
<circle cx="166.20" cy="697.00" r="1.5" fill="#fff" stroke="#222" stroke-width="1.1"/>
<circle cx="227.00" cy="708.00" r="1.5" fill="#fff" stroke="#222" stroke-width="1.1"/>
<rect x="396.30" y="517.80" width="44.50" height="19.30" rx="4" ry="4" fill="none" stroke="#333" stroke-width="1.1"/>
<text transform="matrix(1.1232 0 0 1.2246 403.77 530.20)" style="font-family:'Liberation Sans';font-weight:bold;font-size:10.0px" fill="#111" stroke="#111" stroke-width="0.341">AML</text>
<line x1="319.40" y1="557.30" x2="319.40" y2="708.80" stroke="#4a4a4a" stroke-width="1.3"/>
<line x1="317.40" y1="557.30" x2="319.40" y2="557.30" stroke="#4a4a4a" stroke-width="1.0"/>
<line x1="317.40" y1="587.60" x2="319.40" y2="587.60" stroke="#4a4a4a" stroke-width="1.0"/>
<line x1="317.40" y1="617.90" x2="319.40" y2="617.90" stroke="#4a4a4a" stroke-width="1.0"/>
<line x1="317.40" y1="648.20" x2="319.40" y2="648.20" stroke="#4a4a4a" stroke-width="1.0"/>
<line x1="317.40" y1="678.50" x2="319.40" y2="678.50" stroke="#4a4a4a" stroke-width="1.0"/>
<line x1="317.40" y1="708.80" x2="319.40" y2="708.80" stroke="#4a4a4a" stroke-width="1.0"/>
<text transform="matrix(1.2160 0 0 1.0857 295.04 561.40)" style="font-family:'Liberation Sans';font-weight:bold;font-size:10.0px" fill="#111" stroke="#111" stroke-width="0.348">100</text>
<text transform="matrix(1.2160 0 0 1.0857 301.79 591.70)" style="font-family:'Liberation Sans';font-weight:bold;font-size:10.0px" fill="#111" stroke="#111" stroke-width="0.348">80</text>
<text transform="matrix(1.2160 0 0 1.0857 301.79 622.00)" style="font-family:'Liberation Sans';font-weight:bold;font-size:10.0px" fill="#111" stroke="#111" stroke-width="0.348">60</text>
<text transform="matrix(1.2160 0 0 1.0857 301.79 652.30)" style="font-family:'Liberation Sans';font-weight:bold;font-size:10.0px" fill="#111" stroke="#111" stroke-width="0.348">40</text>
<text transform="matrix(1.2160 0 0 1.0857 301.79 682.60)" style="font-family:'Liberation Sans';font-weight:bold;font-size:10.0px" fill="#111" stroke="#111" stroke-width="0.348">20</text>
<text transform="matrix(1.2160 0 0 1.0857 308.54 712.90)" style="font-family:'Liberation Sans';font-weight:bold;font-size:10.0px" fill="#111" stroke="#111" stroke-width="0.348">0</text>
<line x1="336.40" y1="726.80" x2="499.70" y2="726.80" stroke="#4a4a4a" stroke-width="1.4"/>
<line x1="336.70" y1="726.80" x2="336.70" y2="728.30" stroke="#4a4a4a" stroke-width="1.0"/>
<line x1="377.45" y1="726.80" x2="377.45" y2="728.30" stroke="#4a4a4a" stroke-width="1.0"/>
<line x1="418.20" y1="726.80" x2="418.20" y2="728.30" stroke="#4a4a4a" stroke-width="1.0"/>
<line x1="458.95" y1="726.80" x2="458.95" y2="728.30" stroke="#4a4a4a" stroke-width="1.0"/>
<line x1="499.70" y1="726.80" x2="499.70" y2="728.30" stroke="#4a4a4a" stroke-width="1.0"/>
<text transform="matrix(1.2640 0 0 1.1286 333.19 740.50)" style="font-family:'Liberation Sans';font-weight:bold;font-size:10.0px" fill="#111" stroke="#111" stroke-width="0.334">0</text>
<text transform="matrix(1.2640 0 0 1.1286 373.97 740.50)" style="font-family:'Liberation Sans';font-weight:bold;font-size:10.0px" fill="#111" stroke="#111" stroke-width="0.334">2</text>
<text transform="matrix(1.2823 0 0 1.1449 414.58 740.50)" style="font-family:'Liberation Sans';font-weight:bold;font-size:10.0px" fill="#111" stroke="#111" stroke-width="0.330">4</text>
<text transform="matrix(1.2640 0 0 1.1286 455.44 740.50)" style="font-family:'Liberation Sans';font-weight:bold;font-size:10.0px" fill="#111" stroke="#111" stroke-width="0.334">6</text>
<text transform="matrix(1.2640 0 0 1.1286 496.19 740.50)" style="font-family:'Liberation Sans';font-weight:bold;font-size:10.0px" fill="#111" stroke="#111" stroke-width="0.334">8</text>
<text transform="matrix(1.1816 0 0 1.0797 403.28 758.30)" style="font-family:'Liberation Sans';font-weight:bold;font-size:10.0px" fill="#111" stroke="#111" stroke-width="0.354">Days</text>
<text transform="translate(291.70 727.32) rotate(-90) scale(1.1078 1.1884)" style="font-family:'Liberation Sans';font-weight:bold;font-size:10.0px" fill="#111" stroke="#111" stroke-width="0.348">IL-3 R</text>
<text transform="translate(291.58 689.73) rotate(-90) scale(1.3261 1.1875)" style="font-family:'Liberation Serif';font-weight:normal;font-size:10.0px" fill="#111" stroke="#111" stroke-width="0.223">α</text>
<text transform="translate(291.70 682.24) rotate(-90) scale(1.3588 1.1884)" style="font-family:'Liberation Sans';font-weight:bold;font-size:10.0px" fill="#111" stroke="#111" stroke-width="0.314">-chain</text>
<text transform="translate(291.70 639.14) rotate(-90) scale(1.2559 1.1884)" style="font-family:'Liberation Sans';font-weight:bold;font-size:10.0px" fill="#111" stroke="#111" stroke-width="0.327">(%</text>
<text transform="translate(291.70 620.00) rotate(-90) scale(1.1525 1.1884)" style="font-family:'Liberation Sans';font-weight:bold;font-size:10.0px" fill="#111" stroke="#111" stroke-width="0.342">Positive</text>
<text transform="translate(291.70 572.73) rotate(-90) scale(1.2199 1.1884)" style="font-family:'Liberation Sans';font-weight:bold;font-size:10.0px" fill="#111" stroke="#111" stroke-width="0.332">Cells)</text>
<line x1="376.90" y1="563.80" x2="376.90" y2="583.10" stroke="#555" stroke-width="1.1"/>
<line x1="375.80" y1="563.80" x2="378.00" y2="563.80" stroke="#222" stroke-width="1.2"/>
<line x1="375.80" y1="583.10" x2="378.00" y2="583.10" stroke="#222" stroke-width="1.2"/>
<line x1="417.90" y1="563.50" x2="417.90" y2="583.70" stroke="#555" stroke-width="1.1"/>
<line x1="416.80" y1="563.50" x2="419.00" y2="563.50" stroke="#222" stroke-width="1.2"/>
<line x1="416.80" y1="583.70" x2="419.00" y2="583.70" stroke="#222" stroke-width="1.2"/>
<line x1="478.90" y1="568.50" x2="478.90" y2="573.80" stroke="#555" stroke-width="1.1"/>
<line x1="477.80" y1="568.50" x2="480.00" y2="568.50" stroke="#222" stroke-width="1.2"/>
<line x1="477.80" y1="573.80" x2="480.00" y2="573.80" stroke="#222" stroke-width="1.2"/>
<line x1="478.90" y1="583.10" x2="478.90" y2="593.80" stroke="#555" stroke-width="1.1"/>
<line x1="477.80" y1="583.10" x2="480.00" y2="583.10" stroke="#222" stroke-width="1.2"/>
<line x1="477.80" y1="593.80" x2="480.00" y2="593.80" stroke="#222" stroke-width="1.2"/>
<polyline points="336.90,568.70 376.90,570.80 417.90,568.30 478.90,573.80" fill="none" stroke="#222" stroke-width="1.1" stroke-linejoin="round"/>
<polyline points="336.90,568.70 376.90,575.00 417.90,576.50 478.90,583.10" fill="none" stroke="#222" stroke-width="1.1" stroke-linejoin="round"/>
<circle cx="336.90" cy="568.70" r="2.0" fill="#111"/>
<circle cx="376.90" cy="575.00" r="2.0" fill="#111"/>
<circle cx="417.90" cy="576.50" r="2.0" fill="#111"/>
<circle cx="478.90" cy="583.10" r="2.0" fill="#111"/>
<circle cx="336.90" cy="568.70" r="1.5" fill="#fff" stroke="#222" stroke-width="1.1"/>
<circle cx="376.90" cy="570.80" r="1.5" fill="#fff" stroke="#222" stroke-width="1.1"/>
<circle cx="417.90" cy="568.30" r="1.5" fill="#fff" stroke="#222" stroke-width="1.1"/>
<circle cx="478.90" cy="573.80" r="1.5" fill="#fff" stroke="#222" stroke-width="1.1"/>
<circle cx="336.90" cy="568.70" r="1.7" fill="#fff" stroke="#111" stroke-width="1.6"/>
<line x1="66.80" y1="782.50" x2="66.80" y2="935.30" stroke="#6a6a6a" stroke-width="1.6"/>
<line x1="64.80" y1="782.50" x2="66.80" y2="782.50" stroke="#6a6a6a" stroke-width="1.0"/>
<line x1="64.80" y1="816.50" x2="66.80" y2="816.50" stroke="#6a6a6a" stroke-width="1.0"/>
<line x1="64.80" y1="850.50" x2="66.80" y2="850.50" stroke="#6a6a6a" stroke-width="1.0"/>
<line x1="64.80" y1="884.50" x2="66.80" y2="884.50" stroke="#6a6a6a" stroke-width="1.0"/>
<line x1="64.80" y1="918.50" x2="66.80" y2="918.50" stroke="#6a6a6a" stroke-width="1.0"/>
<line x1="64.80" y1="935.30" x2="66.80" y2="935.30" stroke="#6a6a6a" stroke-width="1.0"/>
<line x1="65.30" y1="799.50" x2="66.80" y2="799.50" stroke="#6a6a6a" stroke-width="1.0"/>
<line x1="65.30" y1="833.50" x2="66.80" y2="833.50" stroke="#6a6a6a" stroke-width="1.0"/>
<line x1="65.30" y1="867.50" x2="66.80" y2="867.50" stroke="#6a6a6a" stroke-width="1.0"/>
<line x1="65.30" y1="901.50" x2="66.80" y2="901.50" stroke="#6a6a6a" stroke-width="1.0"/>
<text transform="matrix(1.2160 0 0 1.0857 42.24 786.60)" style="font-family:'Liberation Sans';font-weight:bold;font-size:10.0px" fill="#111" stroke="#111" stroke-width="0.348">180</text>
<text transform="matrix(1.2160 0 0 1.0857 42.24 820.60)" style="font-family:'Liberation Sans';font-weight:bold;font-size:10.0px" fill="#111" stroke="#111" stroke-width="0.348">140</text>
<text transform="matrix(1.2160 0 0 1.0857 42.24 854.60)" style="font-family:'Liberation Sans';font-weight:bold;font-size:10.0px" fill="#111" stroke="#111" stroke-width="0.348">100</text>
<text transform="matrix(1.2160 0 0 1.0857 48.99 888.60)" style="font-family:'Liberation Sans';font-weight:bold;font-size:10.0px" fill="#111" stroke="#111" stroke-width="0.348">60</text>
<text transform="matrix(1.2160 0 0 1.0857 48.99 922.60)" style="font-family:'Liberation Sans';font-weight:bold;font-size:10.0px" fill="#111" stroke="#111" stroke-width="0.348">20</text>
<text transform="matrix(1.2160 0 0 1.0857 55.74 939.40)" style="font-family:'Liberation Sans';font-weight:bold;font-size:10.0px" fill="#111" stroke="#111" stroke-width="0.348">0</text>
<line x1="84.30" y1="952.20" x2="247.50" y2="952.20" stroke="#4a4a4a" stroke-width="1.4"/>
<line x1="84.80" y1="952.20" x2="84.80" y2="953.70" stroke="#4a4a4a" stroke-width="1.0"/>
<line x1="125.40" y1="952.20" x2="125.40" y2="953.70" stroke="#4a4a4a" stroke-width="1.0"/>
<line x1="166.00" y1="952.20" x2="166.00" y2="953.70" stroke="#4a4a4a" stroke-width="1.0"/>
<line x1="206.60" y1="952.20" x2="206.60" y2="953.70" stroke="#4a4a4a" stroke-width="1.0"/>
<line x1="247.20" y1="952.20" x2="247.20" y2="953.70" stroke="#4a4a4a" stroke-width="1.0"/>
<text transform="matrix(1.2480 0 0 1.1143 81.34 966.00)" style="font-family:'Liberation Sans';font-weight:bold;font-size:10.0px" fill="#111" stroke="#111" stroke-width="0.339">0</text>
<text transform="matrix(1.2480 0 0 1.1143 121.97 966.00)" style="font-family:'Liberation Sans';font-weight:bold;font-size:10.0px" fill="#111" stroke="#111" stroke-width="0.339">2</text>
<text transform="matrix(1.2661 0 0 1.1304 162.42 966.00)" style="font-family:'Liberation Sans';font-weight:bold;font-size:10.0px" fill="#111" stroke="#111" stroke-width="0.334">4</text>
<text transform="matrix(1.2480 0 0 1.1143 203.14 966.00)" style="font-family:'Liberation Sans';font-weight:bold;font-size:10.0px" fill="#111" stroke="#111" stroke-width="0.339">6</text>
<text transform="matrix(1.2480 0 0 1.1143 243.74 966.00)" style="font-family:'Liberation Sans';font-weight:bold;font-size:10.0px" fill="#111" stroke="#111" stroke-width="0.339">8</text>
<text transform="matrix(1.1947 0 0 1.0797 149.67 984.90)" style="font-family:'Liberation Sans';font-weight:bold;font-size:10.0px" fill="#111" stroke="#111" stroke-width="0.352">Days</text>
<text transform="translate(23.60 898.89) rotate(-90) scale(1.0669 1.1594)" style="font-family:'Liberation Sans';font-weight:bold;font-size:10.0px" fill="#111" stroke="#111" stroke-width="0.359">IL-3 R</text>
<text transform="translate(23.38 865.87) rotate(-90) scale(1.1739 1.1875)" style="font-family:'Liberation Serif';font-weight:normal;font-size:10.0px" fill="#111" stroke="#111" stroke-width="0.237">α</text>
<text transform="translate(23.60 859.27) rotate(-90) scale(1.4200 1.1594)" style="font-family:'Liberation Sans';font-weight:bold;font-size:10.0px" fill="#111" stroke="#111" stroke-width="0.310">-chain</text>
<text transform="translate(37.60 929.73) rotate(-90) scale(1.0643 1.1739)" style="font-family:'Liberation Sans';font-weight:bold;font-size:10.0px" fill="#111" stroke="#111" stroke-width="0.357">(Fluorescence</text>
<text transform="translate(37.60 854.55) rotate(-90) scale(1.5120 1.1739)" style="font-family:'Liberation Sans';font-weight:bold;font-size:10.0px" fill="#111" stroke="#111" stroke-width="0.298">Intensity)</text>
<line x1="83.90" y1="870.20" x2="83.90" y2="891.70" stroke="#444" stroke-width="1.1"/>
<line x1="82.80" y1="870.20" x2="85.00" y2="870.20" stroke="#222" stroke-width="1.2"/>
<line x1="82.80" y1="891.70" x2="85.00" y2="891.70" stroke="#222" stroke-width="1.2"/>
<line x1="124.80" y1="899.70" x2="124.80" y2="917.80" stroke="#444" stroke-width="1.1"/>
<line x1="123.70" y1="899.70" x2="125.90" y2="899.70" stroke="#222" stroke-width="1.2"/>
<line x1="123.70" y1="917.80" x2="125.90" y2="917.80" stroke="#222" stroke-width="1.2"/>
<line x1="166.40" y1="914.60" x2="166.40" y2="926.00" stroke="#444" stroke-width="1.1"/>
<line x1="165.30" y1="914.60" x2="167.50" y2="914.60" stroke="#222" stroke-width="1.2"/>
<line x1="165.30" y1="926.00" x2="167.50" y2="926.00" stroke="#222" stroke-width="1.2"/>
<line x1="227.40" y1="918.70" x2="227.40" y2="926.70" stroke="#444" stroke-width="1.1"/>
<line x1="226.30" y1="918.70" x2="228.50" y2="918.70" stroke="#222" stroke-width="1.2"/>
<line x1="226.30" y1="926.70" x2="228.50" y2="926.70" stroke="#222" stroke-width="1.2"/>
<polyline points="83.90,881.00 124.80,908.60 166.40,920.30 227.40,922.20" fill="none" stroke="#222" stroke-width="1.1" stroke-linejoin="round"/>
<circle cx="83.90" cy="881.00" r="1.5" fill="#fff" stroke="#222" stroke-width="1.1"/>
<circle cx="124.80" cy="908.60" r="1.5" fill="#fff" stroke="#222" stroke-width="1.1"/>
<circle cx="166.40" cy="920.30" r="1.5" fill="#fff" stroke="#222" stroke-width="1.1"/>
<circle cx="227.40" cy="922.20" r="1.5" fill="#fff" stroke="#222" stroke-width="1.1"/>
<line x1="320.50" y1="782.90" x2="320.50" y2="935.20" stroke="#555" stroke-width="1.3"/>
<line x1="318.50" y1="782.90" x2="320.50" y2="782.90" stroke="#555" stroke-width="1.0"/>
<line x1="318.50" y1="816.90" x2="320.50" y2="816.90" stroke="#555" stroke-width="1.0"/>
<line x1="318.50" y1="850.90" x2="320.50" y2="850.90" stroke="#555" stroke-width="1.0"/>
<line x1="318.50" y1="884.90" x2="320.50" y2="884.90" stroke="#555" stroke-width="1.0"/>
<line x1="318.50" y1="918.90" x2="320.50" y2="918.90" stroke="#555" stroke-width="1.0"/>
<line x1="318.50" y1="935.20" x2="320.50" y2="935.20" stroke="#555" stroke-width="1.0"/>
<line x1="319.00" y1="799.90" x2="320.50" y2="799.90" stroke="#555" stroke-width="1.0"/>
<line x1="319.00" y1="833.90" x2="320.50" y2="833.90" stroke="#555" stroke-width="1.0"/>
<line x1="319.00" y1="867.90" x2="320.50" y2="867.90" stroke="#555" stroke-width="1.0"/>
<line x1="319.00" y1="901.90" x2="320.50" y2="901.90" stroke="#555" stroke-width="1.0"/>
<text transform="matrix(1.2160 0 0 1.0857 295.54 787.00)" style="font-family:'Liberation Sans';font-weight:bold;font-size:10.0px" fill="#111" stroke="#111" stroke-width="0.348">180</text>
<text transform="matrix(1.2160 0 0 1.0857 295.54 821.00)" style="font-family:'Liberation Sans';font-weight:bold;font-size:10.0px" fill="#111" stroke="#111" stroke-width="0.348">140</text>
<text transform="matrix(1.2160 0 0 1.0857 295.54 855.00)" style="font-family:'Liberation Sans';font-weight:bold;font-size:10.0px" fill="#111" stroke="#111" stroke-width="0.348">100</text>
<text transform="matrix(1.2160 0 0 1.0857 302.29 889.00)" style="font-family:'Liberation Sans';font-weight:bold;font-size:10.0px" fill="#111" stroke="#111" stroke-width="0.348">60</text>
<text transform="matrix(1.2160 0 0 1.0857 302.29 923.00)" style="font-family:'Liberation Sans';font-weight:bold;font-size:10.0px" fill="#111" stroke="#111" stroke-width="0.348">20</text>
<text transform="matrix(1.2160 0 0 1.0857 309.04 939.30)" style="font-family:'Liberation Sans';font-weight:bold;font-size:10.0px" fill="#111" stroke="#111" stroke-width="0.348">0</text>
<line x1="337.20" y1="953.00" x2="501.30" y2="953.00" stroke="#4a4a4a" stroke-width="1.4"/>
<line x1="338.50" y1="953.00" x2="338.50" y2="954.50" stroke="#4a4a4a" stroke-width="1.0"/>
<line x1="379.20" y1="953.00" x2="379.20" y2="954.50" stroke="#4a4a4a" stroke-width="1.0"/>
<line x1="419.90" y1="953.00" x2="419.90" y2="954.50" stroke="#4a4a4a" stroke-width="1.0"/>
<line x1="460.60" y1="953.00" x2="460.60" y2="954.50" stroke="#4a4a4a" stroke-width="1.0"/>
<line x1="501.30" y1="953.00" x2="501.30" y2="954.50" stroke="#4a4a4a" stroke-width="1.0"/>
<text transform="matrix(1.2800 0 0 1.1429 334.95 967.00)" style="font-family:'Liberation Sans';font-weight:bold;font-size:10.0px" fill="#111" stroke="#111" stroke-width="0.330">0</text>
<text transform="matrix(1.2800 0 0 1.1429 375.68 967.00)" style="font-family:'Liberation Sans';font-weight:bold;font-size:10.0px" fill="#111" stroke="#111" stroke-width="0.330">2</text>
<text transform="matrix(1.2986 0 0 1.1594 416.23 967.00)" style="font-family:'Liberation Sans';font-weight:bold;font-size:10.0px" fill="#111" stroke="#111" stroke-width="0.325">4</text>
<text transform="matrix(1.2800 0 0 1.1429 457.05 967.00)" style="font-family:'Liberation Sans';font-weight:bold;font-size:10.0px" fill="#111" stroke="#111" stroke-width="0.330">6</text>
<text transform="matrix(1.2800 0 0 1.1429 497.75 967.00)" style="font-family:'Liberation Sans';font-weight:bold;font-size:10.0px" fill="#111" stroke="#111" stroke-width="0.330">8</text>
<text transform="matrix(1.1991 0 0 1.0797 403.27 985.30)" style="font-family:'Liberation Sans';font-weight:bold;font-size:10.0px" fill="#111" stroke="#111" stroke-width="0.351">Days</text>
<text transform="translate(276.60 901.33) rotate(-90) scale(1.1227 1.1884)" style="font-family:'Liberation Sans';font-weight:bold;font-size:10.0px" fill="#111" stroke="#111" stroke-width="0.346">IL-3 R</text>
<text transform="translate(276.38 863.13) rotate(-90) scale(1.3261 1.1875)" style="font-family:'Liberation Serif';font-weight:normal;font-size:10.0px" fill="#111" stroke="#111" stroke-width="0.223">α</text>
<text transform="translate(276.60 856.13) rotate(-90) scale(1.3357 1.1884)" style="font-family:'Liberation Sans';font-weight:bold;font-size:10.0px" fill="#111" stroke="#111" stroke-width="0.317">-chain</text>
<text transform="translate(291.10 929.73) rotate(-90) scale(1.0643 1.1884)" style="font-family:'Liberation Sans';font-weight:bold;font-size:10.0px" fill="#111" stroke="#111" stroke-width="0.355">(Fluorescence</text>
<text transform="translate(291.10 854.55) rotate(-90) scale(1.5120 1.1884)" style="font-family:'Liberation Sans';font-weight:bold;font-size:10.0px" fill="#111" stroke="#111" stroke-width="0.296">Intensity)</text>
<path d="M336.9,798.5 V829.6 H339.3 V798.5" fill="none" stroke="#333" stroke-width="1"/>
<line x1="379.80" y1="802.90" x2="379.80" y2="832.00" stroke="#333" stroke-width="1.1"/>
<line x1="378.70" y1="802.90" x2="380.90" y2="802.90" stroke="#222" stroke-width="1.2"/>
<line x1="378.70" y1="832.00" x2="380.90" y2="832.00" stroke="#222" stroke-width="1.2"/>
<line x1="378.10" y1="832.70" x2="378.10" y2="851.30" stroke="#333" stroke-width="1.1"/>
<line x1="377.00" y1="832.70" x2="379.20" y2="832.70" stroke="#222" stroke-width="1.2"/>
<line x1="377.00" y1="851.30" x2="379.20" y2="851.30" stroke="#222" stroke-width="1.2"/>
<line x1="418.70" y1="798.10" x2="418.70" y2="827.40" stroke="#333" stroke-width="1.1"/>
<line x1="417.60" y1="798.10" x2="419.80" y2="798.10" stroke="#222" stroke-width="1.2"/>
<line x1="417.60" y1="827.40" x2="419.80" y2="827.40" stroke="#222" stroke-width="1.2"/>
<line x1="418.70" y1="838.80" x2="418.70" y2="870.70" stroke="#333" stroke-width="1.1"/>
<line x1="417.60" y1="838.80" x2="419.80" y2="838.80" stroke="#222" stroke-width="1.2"/>
<line x1="417.60" y1="870.70" x2="419.80" y2="870.70" stroke="#222" stroke-width="1.2"/>
<line x1="480.30" y1="818.30" x2="480.30" y2="839.80" stroke="#333" stroke-width="1.1"/>
<line x1="479.20" y1="818.30" x2="481.40" y2="818.30" stroke="#222" stroke-width="1.2"/>
<line x1="479.20" y1="839.80" x2="481.40" y2="839.80" stroke="#222" stroke-width="1.2"/>
<line x1="480.40" y1="872.00" x2="480.40" y2="887.00" stroke="#333" stroke-width="1.1"/>
<line x1="479.30" y1="872.00" x2="481.50" y2="872.00" stroke="#222" stroke-width="1.2"/>
<line x1="479.30" y1="887.00" x2="481.50" y2="887.00" stroke="#222" stroke-width="1.2"/>
<polyline points="339.20,798.50 379.80,802.90 418.70,827.40 480.30,839.80" fill="none" stroke="#222" stroke-width="1.1" stroke-linejoin="round"/>
<polyline points="337.70,798.50 378.10,832.70 418.70,838.80 480.40,872.00" fill="none" stroke="#222" stroke-width="1.1" stroke-linejoin="round"/>
<circle cx="339.20" cy="798.50" r="2.0" fill="#111"/>
<circle cx="379.80" cy="802.90" r="2.0" fill="#111"/>
<circle cx="418.70" cy="827.40" r="2.0" fill="#111"/>
<circle cx="480.30" cy="839.80" r="2.0" fill="#111"/>
<circle cx="337.70" cy="798.50" r="1.5" fill="#fff" stroke="#222" stroke-width="1.1"/>
<circle cx="378.10" cy="832.70" r="1.5" fill="#fff" stroke="#222" stroke-width="1.1"/>
<circle cx="418.70" cy="838.80" r="1.5" fill="#fff" stroke="#222" stroke-width="1.1"/>
<circle cx="480.40" cy="872.00" r="1.5" fill="#fff" stroke="#222" stroke-width="1.1"/>
</svg>
</body></html>
